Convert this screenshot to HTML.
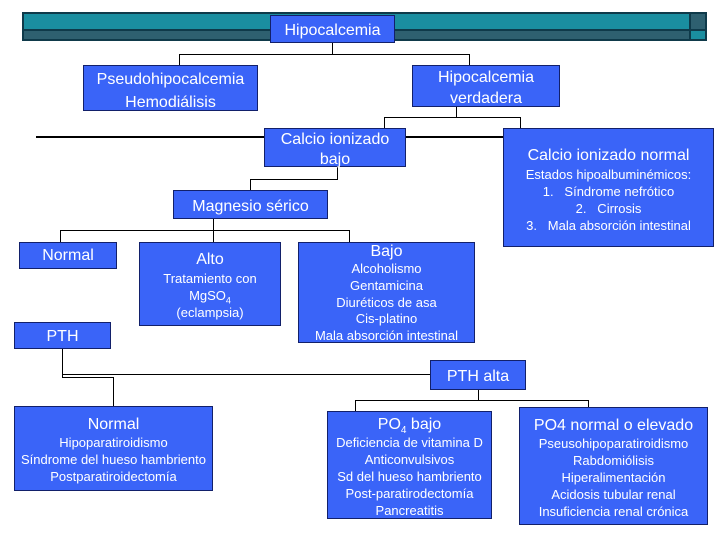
<!DOCTYPE html>
<html><head><meta charset="utf-8"><style>
body{margin:0;width:720px;height:540px;background:#fff;position:relative;overflow:hidden;font-family:"Liberation Sans",Arial,sans-serif;color:#fff}
.b{position:absolute;background:#3a64f8;border:1px solid #12206a;box-sizing:border-box;text-align:center;line-height:17px;font-size:13px}
.h{font-size:16px;line-height:20px}
.l{position:absolute;background:#000}
</style></head><body>
<div style="position:absolute;left:22px;top:12px;width:685px;height:29px;background:#0f3a4a"></div>
<div style="position:absolute;left:24px;top:14px;width:665px;height:15px;background:#1a8ea0"></div>
<div style="position:absolute;left:24px;top:31px;width:665px;height:8px;background:#2e6070"></div>
<div style="position:absolute;left:691px;top:14px;width:14px;height:15px;background:#2e6070"></div>
<div style="position:absolute;left:691px;top:31px;width:14px;height:8px;background:#1a8ea0"></div>

<div class="l" style="left:332px;top:43px;width:1px;height:11px"></div>
<div class="l" style="left:179px;top:54px;width:290px;height:1px"></div>
<div class="l" style="left:179px;top:54px;width:1px;height:11px"></div>
<div class="l" style="left:469px;top:54px;width:1px;height:11px"></div>
<div class="l" style="left:456px;top:105px;width:1px;height:12px"></div>
<div class="l" style="left:384px;top:117px;width:136px;height:1px"></div>
<div class="l" style="left:384px;top:117px;width:1px;height:11px"></div>
<div class="l" style="left:520px;top:117px;width:1px;height:11px"></div>
<div class="l" style="left:36px;top:136px;width:467px;height:2px"></div>
<div class="l" style="left:337px;top:167px;width:1px;height:12px"></div>
<div class="l" style="left:250px;top:179px;width:88px;height:1px"></div>
<div class="l" style="left:250px;top:179px;width:1px;height:11px"></div>
<div class="l" style="left:213px;top:219px;width:1px;height:11px"></div>
<div class="l" style="left:60px;top:230px;width:290px;height:1px"></div>
<div class="l" style="left:60px;top:230px;width:1px;height:12px"></div>
<div class="l" style="left:213px;top:230px;width:1px;height:12px"></div>
<div class="l" style="left:349px;top:230px;width:1px;height:12px"></div>
<div class="l" style="left:62px;top:349px;width:1px;height:29px"></div>
<div class="l" style="left:62px;top:374px;width:368px;height:1px"></div>
<div class="l" style="left:62px;top:377px;width:51px;height:1px"></div>
<div class="l" style="left:113px;top:377px;width:1px;height:29px"></div>
<div class="l" style="left:478px;top:389px;width:1px;height:11px"></div>
<div class="l" style="left:355px;top:400px;width:233px;height:1px"></div>
<div class="l" style="left:355px;top:400px;width:1px;height:11px"></div>
<div class="l" style="left:588px;top:400px;width:1px;height:7px"></div>

<div class="b h" style="left:270px;top:15px;width:125px;height:28px;padding-top:5px">Hipocalcemia</div>
<div class="b h" style="left:83px;top:65px;width:175px;height:46px;padding-top:2px;line-height:23px">Pseudohipocalcemia<br>Hemodiálisis</div>
<div class="b h" style="left:412px;top:65px;width:148px;height:42px;line-height:21px;padding-top:1px">Hipocalcemia<br>verdadera</div>
<div class="b h" style="left:264px;top:128px;width:142px;height:39px;line-height:20px;padding-top:1px">Calcio ionizado<br>bajo</div>
<div class="b" style="left:503px;top:128px;width:211px;height:119px;padding-top:17px;line-height:17px"><div class="h">Calcio ionizado normal</div>Estados hipoalbuminémicos:<br>1.&nbsp;&nbsp; Síndrome nefrótico<br>2.&nbsp;&nbsp; Cirrosis<br>3.&nbsp;&nbsp; Mala absorción intestinal</div>
<div class="b h" style="left:173px;top:190px;width:155px;height:29px;padding-top:6px">Magnesio sérico</div>
<div class="b h" style="left:19px;top:242px;width:98px;height:27px;padding-top:3px">Normal</div>
<div class="b" style="left:139px;top:242px;width:142px;height:84px;padding-top:7px"><div class="h">Alto</div>Tratamiento con<br>MgSO<sub style="font-size:9px;line-height:0">4</sub><br>(eclampsia)</div>
<div class="b" style="left:298px;top:242px;width:177px;height:101px;padding-top:0;line-height:16.8px;overflow:hidden"><div class="h" style="line-height:18px">Bajo</div>Alcoholismo<br>Gentamicina<br>Diuréticos de asa<br>Cis-platino<br>Mala absorción intestinal</div>
<div class="b h" style="left:14px;top:322px;width:97px;height:27px;padding-top:4px">PTH</div>
<div class="b h" style="left:430px;top:360px;width:96px;height:30px;padding-top:6px">PTH alta</div>
<div class="b" style="left:14px;top:406px;width:199px;height:85px;padding-top:8px"><div class="h" style="line-height:19px">Normal</div>Hipoparatiroidismo<br>Síndrome del hueso hambriento<br>Postparatiroidectomía</div>
<div class="b" style="left:327px;top:411px;width:165px;height:108px;padding-top:3px"><div class="h" style="line-height:19px">PO<sub style="font-size:10px;line-height:0">4</sub> bajo</div>Deficiencia de vitamina D<br>Anticonvulsivos<br>Sd del hueso hambriento<br>Post-paratirodectomía<br>Pancreatitis</div>
<div class="b" style="left:519px;top:407px;width:189px;height:118px;padding-top:8px"><div class="h" style="line-height:19px">PO4 normal o elevado</div>Pseusohipoparatiroidismo<br>Rabdomiólisis<br>Hiperalimentación<br>Acidosis tubular renal<br>Insuficiencia renal crónica</div>
</body></html>
